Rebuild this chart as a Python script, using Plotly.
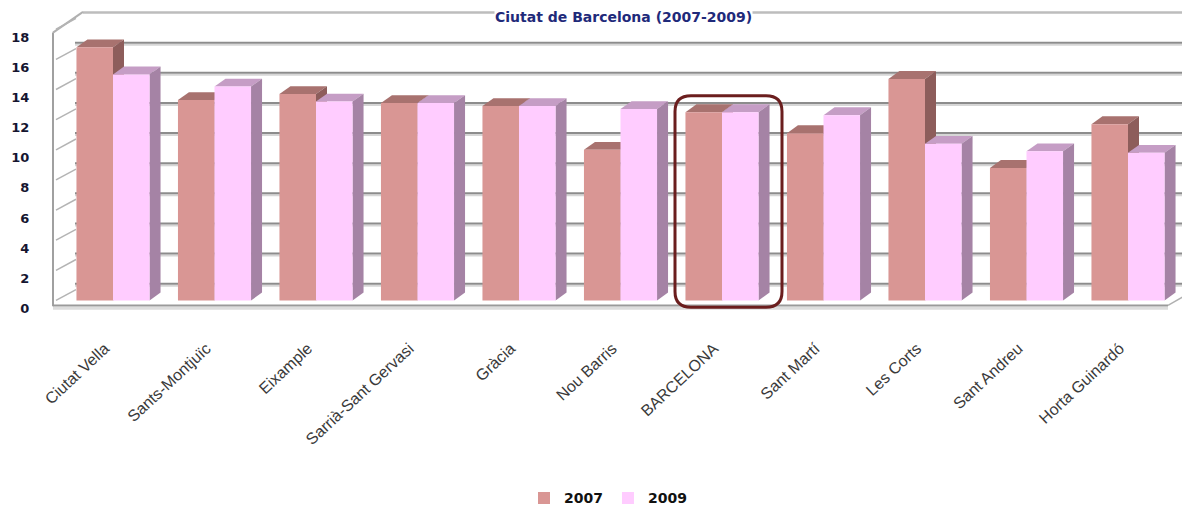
import plotly.graph_objects as go

# ---- data ----
districts = ["Ciutat Vella", "Sants-Montjuïc", "Eixample", "Sarrià-Sant Gervasi", "Gràcia",
             "Nou Barris", "BARCELONA", "Sant Martí", "Les Corts", "Sant Andreu", "Horta Guinardó"]
v2007 = [16.8, 13.3, 13.7, 13.1, 12.9, 10.0, 12.5, 11.1, 14.7, 8.8, 11.7]
v2009 = [15.0, 14.2, 13.2, 13.1, 12.9, 12.7, 12.5, 12.3, 10.4, 9.9, 9.8]
series_names = ["2007", "2009"]
y_ticks = [0, 2, 4, 6, 8, 10, 12, 14, 16, 18]
title_text = "Ciutat de Barcelona (2007-2009)"
highlight = "BARCELONA"

# ---- geometry (page pixels; the page body adds an 8px margin) ----
OFF = 8
FW, FH = 1190 - OFF, 515 - OFF
PXX = 101.5   # pixels per category
PXY = 15.3    # pixels per unit
X0PX = 113    # page pixel of first category centre
Y0PX = 305    # page pixel of value 0 (bar base)
L, R, T, B = 45, 1190, 8, 335   # plot area in page pixels

def ux(px):
    return (px - X0PX) / PXX

def uy(py):
    return (Y0PX - py) / PXY

dxu = 11 / PXX
dyu = 8 / PXY
BW = 0.36

col_front = ["#D99694", "#FFCCFF"]
col_top = ["#A8726F", "#C59DC5"]
col_side = ["#8D5D5B", "#A583A5"]

shapes = []
# back wall gridlines
back_off = 17 / PXY
for v in y_ticks:
    top = (v == y_ticks[-1])
    if not top:
        shapes.append(dict(type="line", xref="x", yref="y", layer="below",
                           x0=ux(75), x1=ux(1200), y0=v + back_off - 2 / PXY, y1=v + back_off - 2 / PXY,
                           line=dict(color="#D6D6D6", width=2)))
    shapes.append(dict(type="line", xref="x", yref="y", layer="below",
                       x0=ux(83 if top else 75), x1=ux(1200), y0=v + back_off, y1=v + back_off,
                       line=dict(color="#BDBDBD" if top else "#8C8C8C", width=2.5 if top else 2)))
# left wall
shapes.append(dict(type="line", xref="x", yref="y", layer="below",
                   x0=ux(53), x1=ux(53), y0=uy(311), y1=uy(33), line=dict(color="#A0A0A0", width=2)))
shapes.append(dict(type="line", xref="x", yref="y", layer="below",
                   x0=ux(53), x1=ux(83), y0=uy(33), y1=uy(12), line=dict(color="#B0B0B0", width=2)))
for v in y_ticks:
    yl = 305 - PXY * v
    shapes.append(dict(type="line", xref="x", yref="y", layer="below",
                       x0=ux(56), x1=ux(76), y0=uy(yl), y1=uy(yl - 11),
                       line=dict(color="#B4B4B4", width=1.5)))
# floor edges
shapes.append(dict(type="line", xref="x", yref="y", layer="below",
                   x0=ux(53), x1=ux(1168), y0=uy(313), y1=uy(313), line=dict(color="#DDDDDD", width=3)))
shapes.append(dict(type="line", xref="x", yref="y", layer="below",
                   x0=ux(53), x1=ux(1168), y0=uy(310), y1=uy(310), line=dict(color="#9A9A9A", width=2)))
shapes.append(dict(type="line", xref="x", yref="y", layer="below",
                   x0=ux(1168), x1=ux(1192), y0=uy(310), y1=uy(296), line=dict(color="#B0B0B0", width=1.5)))

# 3D faces of bars
for si, vals in enumerate([v2007, v2009]):
    for i, v in enumerate(vals):
        xl = i - BW + si * BW
        xr = xl + BW
        shapes.append(dict(type="path", xref="x", yref="y", layer="below",
                           path=f"M {xl:.4f},{v:.4f} L {xr:.4f},{v:.4f} L {xr+dxu:.4f},{v+dyu:.4f} L {xl+dxu:.4f},{v+dyu:.4f} Z",
                           fillcolor=col_top[si], line=dict(width=0)))
        shapes.append(dict(type="path", xref="x", yref="y", layer="below",
                           path=f"M {xr:.4f},0 L {xr:.4f},{v:.4f} L {xr+dxu:.4f},{v+dyu:.4f} L {xr+dxu:.4f},{dyu:.4f} Z",
                           fillcolor=col_side[si], line=dict(width=0)))

# highlight rounded rectangle around BARCELONA
hi = districts.index(highlight)
gc = X0PX + hi * PXX
x1, x2 = hi + (675 - gc) / PXX, hi + (782 - gc) / PXX
y1, y2 = uy(312), uy(97)
rx, ry = 16 / PXX, 16 / PXY
path = (f"M {x1+rx:.4f},{y2:.4f} L {x2-rx:.4f},{y2:.4f} Q {x2:.4f},{y2:.4f} {x2:.4f},{y2-ry:.4f} "
        f"L {x2:.4f},{y1+ry:.4f} Q {x2:.4f},{y1:.4f} {x2-rx:.4f},{y1:.4f} L {x1+rx:.4f},{y1:.4f} "
        f"Q {x1:.4f},{y1:.4f} {x1:.4f},{y1+ry:.4f} L {x1:.4f},{y2-ry:.4f} Q {x1:.4f},{y2:.4f} {x1+rx:.4f},{y2:.4f} Z")
shapes.append(dict(type="path", xref="x", yref="y", layer="above", path=path,
                   line=dict(color="#6B1E1E", width=3)))

fig = go.Figure()
for si, (name, vals) in enumerate(zip(series_names, [v2007, v2009])):
    fig.add_trace(go.Bar(
        x=list(range(len(districts))), y=vals, name=name,
        width=BW, offset=-BW + si * BW,
        marker=dict(color=col_front[si], line=dict(width=0)),
    ))

pw = R - L
ph = B - T
fig.update_layout(
    width=FW, height=FH,
    margin=dict(l=L - OFF, r=(1190 - R), t=T - OFF, b=515 - B),
    paper_bgcolor="white", plot_bgcolor="rgba(0,0,0,0)",
    barmode="overlay",
    shapes=shapes,
    annotations=[dict(text=title_text, xref="paper", yref="paper",
                      x=(623 - L) / pw, y=1.0, xanchor="center", yanchor="top", showarrow=False,
                      bgcolor="white", borderpad=0,
                      font=dict(family="DejaVu Sans", size=14, color="#1F2A7A", weight="bold"))],
    legend=dict(orientation="h", x=(608 - L) / pw, xanchor="center",
                y=-(506 - B) / ph, yanchor="middle",
                font=dict(family="DejaVu Sans", size=14, color="#111111", weight="bold"),
                itemwidth=30, traceorder="normal"),
    showlegend=True,
)
fig.update_xaxes(range=[ux(L), ux(R)], tickmode="array",
                 tickvals=[i - 0.08 for i in range(len(districts))], ticktext=districts,
                 tickangle=-43, showgrid=False, zeroline=False, showline=False,
                 ticks="outside", ticklen=2, tickcolor="rgba(0,0,0,0)",
                 tickfont=dict(family="Liberation Sans", size=16, color="#3a3a3a"))
fig.update_yaxes(range=[uy(B), uy(T)], tickmode="array",
                 tickvals=[v - 8 / PXY for v in y_ticks], ticktext=[str(v) for v in y_ticks],
                 showgrid=False, zeroline=False, showline=False,
                 ticks="outside", ticklen=12, tickcolor="rgba(0,0,0,0)",
                 tickfont=dict(family="DejaVu Sans", size=13, color="#151530", weight="bold"))

fig.write_html("out.html")
